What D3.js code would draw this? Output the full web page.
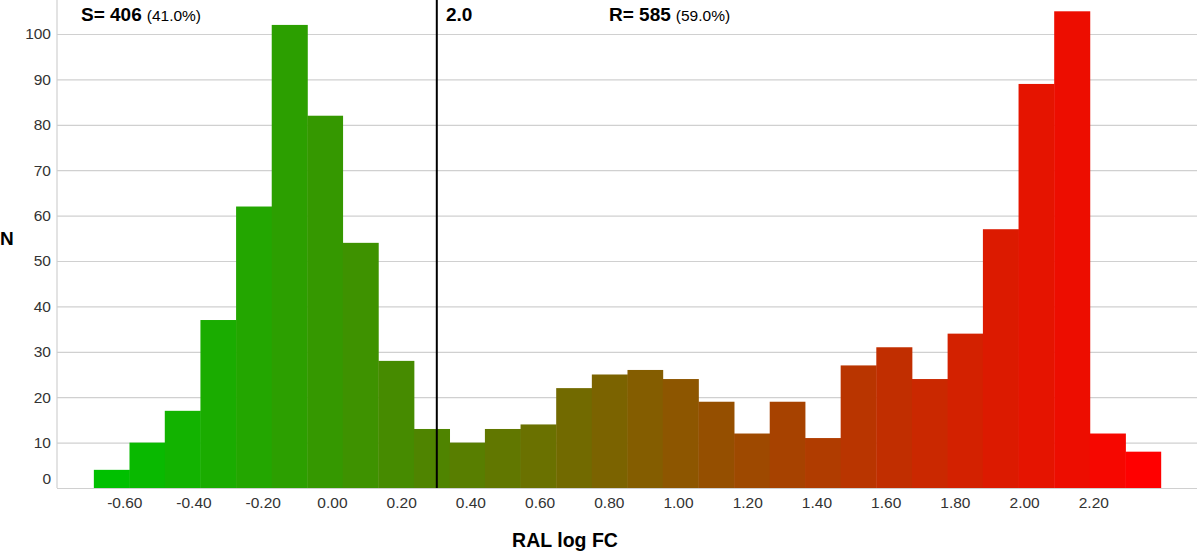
<!DOCTYPE html>
<html>
<head>
<meta charset="utf-8">
<script src="https://cdn.jsdelivr.net/npm/d3@7"></script>
<style>
  body { margin: 0; background: #fff; }
  svg { display: block; font-family: "Liberation Sans", Arial, sans-serif; }
</style>
</head>
<body>
<div id="container"></div>
<script>
let width = 1200
let height = 552

// bin edges (RAL log FC) and counts
const binEdges = [-0.688, -0.585, -0.483, -0.380, -0.277, -0.174, -0.071, 0.031, 0.134, 0.237,
  0.340, 0.442, 0.545, 0.648, 0.751, 0.854, 0.956, 1.059, 1.162, 1.265,
  1.367, 1.470, 1.573, 1.676, 1.779, 1.881, 1.984, 2.087, 2.190, 2.293, 2.395]
const counts = [4, 10, 17, 37, 62, 102, 82, 54, 28, 13,
  10, 13, 14, 22, 25, 26, 24, 19, 12, 19,
  11, 27, 31, 24, 34, 57, 89, 105, 12, 8]
const xTicks = [-0.6, -0.4, -0.2, 0, 0.2, 0.4, 0.6, 0.8, 1.0, 1.2, 1.4, 1.6, 1.8, 2.0, 2.2]
const yTicks = [0, 10, 20, 30, 40, 50, 60, 70, 80, 90, 100]
const threshold = 0.303
const thresholdLabel = "2.0"
const sCount = 406, sPct = "(41.0%)"
const rCount = 585, rPct = "(59.0%)"

const bins = counts.map((c, i) => ({ x0: binEdges[i], x1: binEdges[i + 1], n: c, i: i }))

let x = d3.scaleLinear()
    .domain([-0.6, 2.2])
    .range([124.3, 1093.3])

let y = d3.scaleLinear()
    .domain([0, 100])
    .range([488, 34])

const color = d3.interpolateRgb("#00c000", "#ff0000")
// plain hyphen for negatives, like the original
const fmt = d => d3.format(".2f")(d).replace("\u2212", "-")

let svg = d3.select("#container")
    .append("svg")
    .attr("width", width)
    .attr("height", height)
    .attr("viewBox", [0, 0, width, height])

// gridlines + y labels
let yAxis = g => g
    .attr("transform", `translate(57,0)`)
    .call(d3.axisLeft(y).tickValues(yTicks).tickSize(-1140).tickPadding(6))
    .call(g => g.select(".domain").remove())
    .call(g => g.selectAll(".tick line").attr("stroke", "#d0d0d0").attr("stroke-width", 1.2))
    .call(g => g.selectAll(".tick text")
        .attr("fill", "#333")
        .attr("font-size", 15.5)
        .attr("font-family", "Liberation Sans, Arial, sans-serif")
        .attr("dy", d => d === 0 ? "-0.3em" : "0.32em"))

svg.append("g").call(yAxis)

// left axis line
svg.append("line")
    .attr("x1", 57).attr("x2", 57)
    .attr("y1", 0).attr("y2", y(0))
    .attr("stroke", "#d0d0d0")
    .attr("stroke-width", 1.2)

// bars
svg.append("g")
    .selectAll("rect")
    .data(bins)
    .join("rect")
    .attr("x", d => x(d.x0))
    .attr("width", d => x(d.x1) - x(d.x0) + 0.4)
    .attr("y", d => y(d.n))
    .attr("height", d => y(0) - y(d.n))
    .attr("fill", d => color(d.i / (bins.length - 1)))

// x axis labels
let xAxis = g => g
    .attr("transform", `translate(0,${y(0)})`)
    .call(d3.axisBottom(x).tickValues(xTicks).tickFormat(fmt).tickSize(0).tickPadding(9))
    .call(g => g.select(".domain").remove())
    .call(g => g.selectAll(".tick text")
        .attr("fill", "#333")
        .attr("font-size", 15.5)
        .attr("font-family", "Liberation Sans, Arial, sans-serif"))

svg.append("g").call(xAxis)

// threshold line
svg.append("line")
    .attr("x1", x(threshold)).attr("x2", x(threshold))
    .attr("y1", 0).attr("y2", y(0))
    .attr("stroke", "#000")
    .attr("stroke-width", 2)

// annotations
let ann = (xPos, bold, normal) => {
    const t = svg.append("text")
        .attr("x", xPos)
        .attr("y", 21)
        .attr("fill", "#000")
    t.append("tspan").attr("font-weight", "bold").attr("font-size", 19).text(bold)
    if (normal) t.append("tspan").attr("font-size", 15.5).attr("dx", 5).text(normal)
}
ann(81, `S= ${sCount}`, sPct)
ann(446, thresholdLabel, null)
ann(609, `R= ${rCount}`, rPct)

// axis titles
svg.append("text")
    .attr("x", 565)
    .attr("y", 547)
    .attr("text-anchor", "middle")
    .attr("font-weight", "bold")
    .attr("font-size", 19.5)
    .text("RAL log FC")

svg.append("text")
    .attr("x", 0)
    .attr("y", 245)
    .attr("font-weight", "bold")
    .attr("font-size", 19)
    .text("N")
</script>
</body>
</html>
